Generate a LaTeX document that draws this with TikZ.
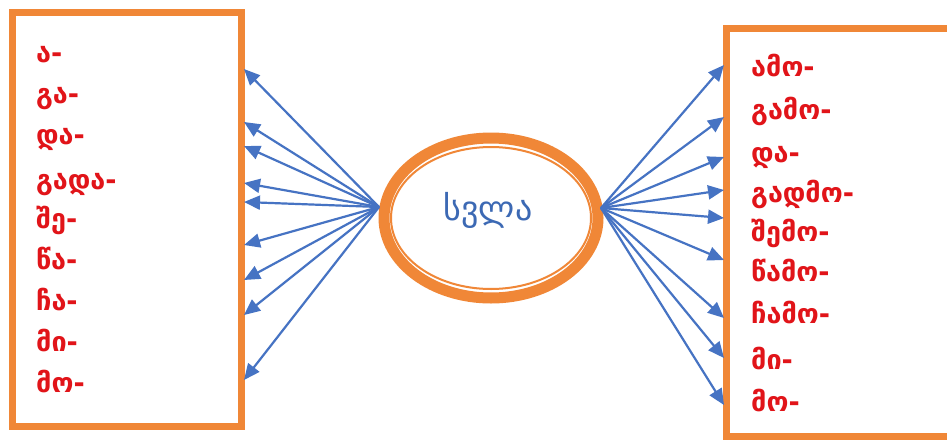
\documentclass[tikz,border=0pt]{standalone}
\usepackage{fontspec}
\newfontfamily\geo{DejaVu Sans}
\newfontfamily\geob{DejaVu Sans Bold}
\usetikzlibrary{arrows.meta,shapes.geometric}
\definecolor{orng}{RGB}{240,135,55}
\definecolor{arrblue}{RGB}{70,115,195}
\definecolor{lblred}{RGB}{225,20,25}
\definecolor{ctrblue}{RGB}{60,105,180}
\begin{document}
\begin{tikzpicture}[x=1pt,y=-1pt,
  box/.style={draw=orng,line width=7pt,rectangle,inner sep=0pt},
  lbl/.style={font=\geob\fontsize{27}{27}\selectfont,text=lblred,anchor=base west,inner sep=0pt},
  ctr/.style={font=\geo\fontsize{34}{34}\selectfont,text=ctrblue,inner sep=0pt},
  ring/.style={draw=orng,line width=11pt,ellipse,inner sep=0pt,minimum width=214pt,minimum height=160pt},
  conn/.style={draw=arrblue,line width=2.2pt,-{Triangle[length=16pt,width=14pt]}}]
\useasboundingbox[fill=white] (0,0) rectangle (947,439);
\clip (0,0) rectangle (947,439);
% boxes
\node[box,minimum width=228.5pt,minimum height=413.5pt] (lb) at (126.75,219.25) {};
\node[box,minimum width=260pt,minimum height=408pt] (rb) at (856.5,232) {};
% central ellipse
\node[ring] (c) at (491,218) {};
\draw[orng,line width=2pt] (c.center) ellipse [x radius=100pt,y radius=71pt];
\node[ctr] (t) at (488,210) {სვლა};
% hubs
\coordinate (hl) at (379,207);
\coordinate (hr) at (601,208);
% left labels
\foreach \n/\y/\s in {1/53/ა-,2/94/გა-,3/135/და-,4/180/გადა-,5/219/შე-,6/260/წა-,7/301/ჩა-,8/342/მი-,9/383/მო-}{
  \node[lbl] (L\n) at (36,\y+9) {\s};
}
% right labels
\foreach \n/\y/\s in {1/67/ამო-,2/110/გამო-,3/153/და-,4/193/გადმო-,5/232/შემო-,6/272/წამო-,7/314/ჩამო-,8/360/მი-,9/402/მო-}{
  \node[lbl] (R\n) at (751,\y+9) {\s};
}
% arrow tips on left box
\foreach \n/\y in {1/69,2/122,3/146,4/183,5/202,6/245,7/280,8/315,9/380}{
  \coordinate (lt\n) at (244,\y);
  \draw[conn] (hl) -- (lt\n);
}
\foreach \n/\y in {1/65,2/117,3/157,4/190,5/218,6/260,7/318,8/358,9/405}{
  \coordinate (rt\n) at (724,\y);
  \draw[conn] (hr) -- (rt\n);
}
\end{tikzpicture}
\end{document}
